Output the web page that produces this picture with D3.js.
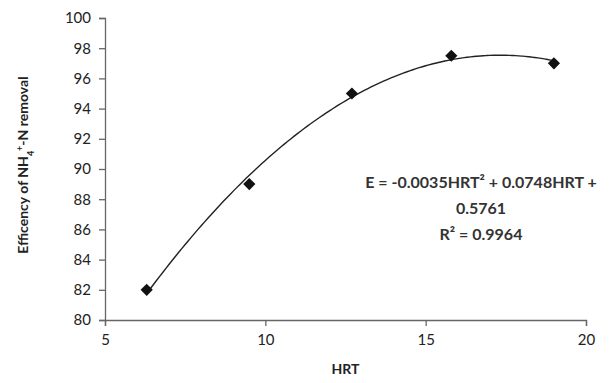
<!DOCTYPE html>
<html>
<head>
<meta charset="utf-8">
<script src="https://cdn.jsdelivr.net/npm/d3@7"></script>
<style>
  body { margin: 0; background: #fff; }
  text { font-family: Lato, "Open Sans", sans-serif; fill: #222; }
  .tick text { font-size: 15px; }
  .axis-label { font-size: 14px; font-weight: bold; }
  .eq { font-size: 16px; font-weight: bold; fill: #333; }
</style>
</head>
<body>
<script>
// data
var hrt = [6.3, 9.5, 12.7, 15.8, 19];
var removal = [82, 89, 95, 97.5, 97];
var xTicks = [5, 10, 15, 20];
var yTicks = [80, 82, 84, 86, 88, 90, 92, 94, 96, 98, 100];
var eqLines = ["E = -0.0035HRT² + 0.0748HRT +", "0.5761", "R² = 0.9964"];

var width = 614, height = 383,
    margin = {top: 18, right: 28, bottom: 63, left: 105},
    innerWidth = width - margin.left - margin.right,
    innerHeight = height - margin.top - margin.bottom;

var svg = d3.select("body").append("svg")
    .attr("width", width)
    .attr("height", height);

var plot = svg.append("g")
    .attr("transform", "translate(" + margin.left + "," + margin.top + ")");

var xScale = d3.scaleLinear().domain([5, 20]).range([0, 481]);
var yScale = d3.scaleLinear().domain([80, 100]).range([innerHeight, 0]);

// axes
var xg = plot.append("g")
    .attr("transform", "translate(0," + innerHeight + ")")
    .call(d3.axisBottom(xScale).tickValues(xTicks).tickSize(6).tickPadding(8));
var yg = plot.append("g")
    .call(d3.axisLeft(yScale).tickValues(yTicks).tickSize(6).tickPadding(8));

[xg, yg].forEach(function(g) {
    g.select(".domain").attr("stroke", "#666").attr("stroke-width", 1.3);
    g.selectAll(".tick line").attr("stroke", "#666").attr("stroke-width", 1.3);
    g.selectAll(".tick text").attr("fill", "#1a1a1a");
});

// quadratic least squares trendline from the points
function polyfit2(xs, ys) {
    var s = [0, 0, 0, 0, 0], t = [0, 0, 0];
    xs.forEach(function(x, i) {
        for (var k = 0; k < 5; k++) s[k] += Math.pow(x, k);
        for (var k2 = 0; k2 < 3; k2++) t[k2] += ys[i] * Math.pow(x, k2);
    });
    var A = [[s[0], s[1], s[2], t[0]], [s[1], s[2], s[3], t[1]], [s[2], s[3], s[4], t[2]]];
    for (var i = 0; i < 3; i++) {
        for (var j = i + 1; j < 3; j++) {
            var f = A[j][i] / A[i][i];
            for (var c = i; c < 4; c++) A[j][c] -= f * A[i][c];
        }
    }
    var coef = [0, 0, 0];
    for (var r = 2; r >= 0; r--) {
        var v = A[r][3];
        for (var c2 = r + 1; c2 < 3; c2++) v -= A[r][c2] * coef[c2];
        coef[r] = v / A[r][r];
    }
    return coef;
}
var coef = polyfit2(hrt, removal);
var trend = d3.range(hrt[0], hrt[hrt.length - 1] + 0.001, 0.1).map(function(x) {
    return {x: x, y: coef[0] + coef[1] * x + coef[2] * x * x};
});

plot.append("path")
    .datum(trend)
    .attr("fill", "none")
    .attr("stroke", "#222")
    .attr("stroke-width", 1.4)
    .attr("d", d3.line()
        .x(function(d) { return xScale(d.x); })
        .y(function(d) { return yScale(d.y); })
        .curve(d3.curveBasis));

// diamond markers
plot.selectAll(".pt")
    .data(hrt)
    .enter().append("path")
    .attr("class", "pt")
    .attr("d", d3.symbol().type(d3.symbolDiamond2).size(95))
    .attr("transform", function(d, i) { return "translate(" + xScale(d) + "," + yScale(removal[i]) + ")"; })
    .attr("fill", "#111");

// equation
var eq = svg.append("text").attr("class", "eq").attr("text-anchor", "middle");
eqLines.forEach(function(line, i) {
    eq.append("tspan").attr("x", 481).attr("y", 188 + i * 26).text(line);
});

// axis titles
svg.append("text")
    .attr("class", "axis-label")
    .attr("text-anchor", "middle")
    .attr("x", margin.left + xScale(12.5))
    .attr("y", 374)
    .text("HRT");

var yl = svg.append("text")
    .attr("class", "axis-label")
    .attr("text-anchor", "middle")
    .attr("transform", "translate(28," + (margin.top + innerHeight / 2 - 4) + ") rotate(-90)");
yl.append("tspan").text("Efficency of NH");
yl.append("tspan").attr("baseline-shift", "sub").attr("font-size", "9px").text("4");
yl.append("tspan").attr("baseline-shift", "super").attr("font-size", "9px").text("+");
yl.append("tspan").text("-N removal");
</script>
</body>
</html>
